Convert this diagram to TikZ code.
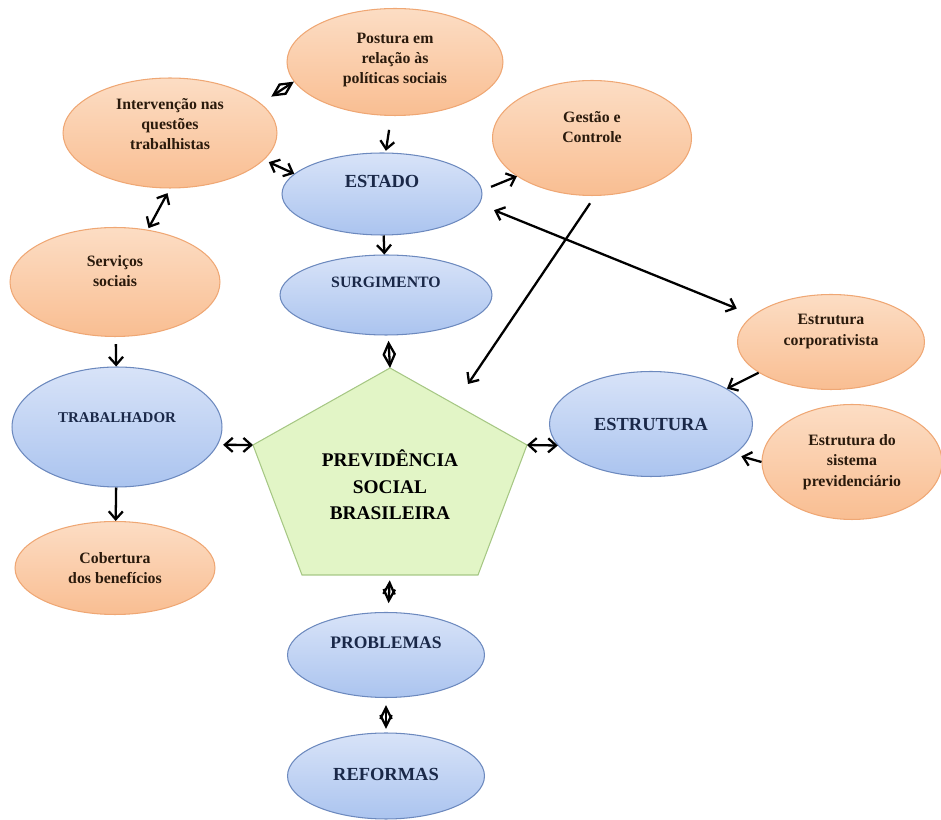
\documentclass[tikz,border=0pt]{standalone}
\usepackage{fontspec}
\setmainfont{Liberation Serif}
\usetikzlibrary{arrows.meta,shapes.geometric}

\definecolor{orgtop}{HTML}{FCDDC4}
\definecolor{orgbot}{HTML}{F9BE92}
\definecolor{orgline}{HTML}{EFA774}
\definecolor{orgtext}{HTML}{2A1A0C}
\definecolor{blutop}{HTML}{D8E3F8}
\definecolor{blubot}{HTML}{ABC4EF}
\definecolor{bluline}{HTML}{6C89BE}
\definecolor{blutext}{HTML}{1A2848}
\definecolor{pentfill}{HTML}{E2F5C6}
\definecolor{pentline}{HTML}{A6C784}

\begin{document}
\begin{tikzpicture}[x=0.02cm,y=-0.02cm,
    obox/.style={ellipse,draw=orgline,line width=0.6pt,top color=orgtop,bottom color=orgbot,inner sep=0pt},
    bbox/.style={ellipse,draw=bluline,line width=0.6pt,top color=blutop,bottom color=blubot,inner sep=0pt},
    otxt/.style={align=center,text=orgtext,font=\fontsize{9}{11.5}\selectfont\bfseries},
    btxt/.style={align=center,text=blutext,font=\fontsize{10.5}{12}\selectfont\bfseries},
    arr/.style={-{Straight Barb[length=4.5pt,width=8pt]},line width=1.3pt},
    dbl/.style={{Straight Barb[length=4.5pt,width=8pt]}-{Straight Barb[length=4.5pt,width=8pt]},line width=1.3pt},
    dia/.style={{Straight Barb[length=6.5pt,width=6.5pt]}-{Straight Barb[length=6.5pt,width=6.5pt]},line width=1.3pt}]
  \useasboundingbox (0,0) rectangle (941,820);

  % orange bubbles
  \node[obox,minimum width=4.32cm,minimum height=2.14cm,
    label={[otxt,yshift=1pt]center:{Postura em\\relação às\\políticas sociais}}] (postura) at (395,62) {};
  \node[obox,minimum width=4.28cm,minimum height=2.2cm,
    label={[otxt,yshift=5pt]center:{Intervenção nas\\questões\\trabalhistas}}] (interv) at (170,133) {};
  \node[obox,minimum width=3.98cm,minimum height=2.3cm,
    label={[otxt,yshift=6pt]center:{Gestão e\\Controle}}] (gestao) at (592,138) {};
  \node[obox,minimum width=4.2cm,minimum height=2.18cm,
    label={[otxt,yshift=6pt]center:{Serviços\\sociais}}] (servicos) at (115,282) {};
  \node[obox,minimum width=3.74cm,minimum height=1.9cm,
    label={[otxt,yshift=6pt]center:{Estrutura\\corporativista}}] (corp) at (831,342) {};
  \node[obox,minimum width=3.6cm,minimum height=2.3cm,
    label={[otxt]center:{Estrutura do\\sistema\\previdenciário}}] (sist) at (852,462) {};
  \node[obox,minimum width=4.0cm,minimum height=1.86cm,
    label={[otxt]center:{Cobertura\\dos benefícios}}] (cobert) at (115,568) {};

  % blue bubbles
  \node[bbox,minimum width=4.0cm,minimum height=1.64cm,
    label={[btxt,yshift=7pt]center:ESTADO}] (estado) at (382,194) {};
  \node[bbox,minimum width=4.24cm,minimum height=1.6cm,
    label={[btxt,font=\fontsize{9}{11}\selectfont\bfseries,yshift=7pt]center:SURGIMENTO}] (surg) at (386,295) {};
  \node[bbox,minimum width=4.2cm,minimum height=2.4cm,
    label={[btxt,font=\fontsize{8.5}{10}\selectfont\bfseries,yshift=5.5pt]center:TRABALHADOR}] (trab) at (117,427) {};
  \node[bbox,minimum width=4.06cm,minimum height=2.1cm,
    label={[btxt]center:ESTRUTURA}] (estrutura) at (651,424) {};
  \node[bbox,minimum width=3.94cm,minimum height=1.7cm,
    label={[btxt,font=\fontsize{10}{12}\selectfont\bfseries,yshift=7pt]center:PROBLEMAS}] (problemas) at (386,655) {};
  \node[bbox,minimum width=3.94cm,minimum height=1.72cm,
    label={[btxt,yshift=1pt]center:REFORMAS}] (reformas) at (386,776) {};

  % pentagon
  \coordinate (pT) at (390,368);
  \coordinate (pR) at (527,445);
  \coordinate (pBR) at (478,575);
  \coordinate (pBL) at (302,575);
  \coordinate (pL) at (253,445);
  \coordinate (pB) at (390,575);
  \filldraw[fill=pentfill,draw=pentline,line width=0.6pt] (pT) -- (pR) -- (pBR) -- (pBL) -- (pL) -- cycle;
  \node[btxt,text=black,font=\fontsize{11}{15}\selectfont\bfseries] (prev) at (390,485) {PREVIDÊNCIA\\SOCIAL\\BRASILEIRA};

  \coordinate (gcEnd) at (468,384);

  % connectors
  \draw[arr,shorten <=8pt,shorten >=1pt] (postura.-94) -- (estado.85);
  \draw[dia,shorten <=7pt] (interv.18) -- (postura.191);
  \draw[dbl,shorten <=3pt] (interv.-16) -- (estado.167);
  \draw[dbl,shorten <=3pt,shorten >=1pt] (interv.south) -- (servicos.58);
  \draw[arr,shorten <=5.5pt] (estado.2) -- (gestao.207);
  \draw[dbl,shorten <=9pt,shorten >=10pt] (estado.-6) -- (corp.161);
  \draw[arr,shorten <=5pt] (gestao.-87) -- (gcEnd);
  \draw[arr] (estado) -- (surg);
  \draw[dia,shorten <=3pt] (surg) -- (pT);
  \draw[arr,shorten <=4pt] (servicos) -- (trab);
  \draw[arr] (trab) -- (cobert);
  \draw[dbl,shorten <=3pt] (trab.-10) -- (pL);
  \draw[dbl] (pR) -- (estrutura.193);
  \draw[arr] (corp.203) -- (estrutura.25);
  \draw[arr,shorten >=4pt] (sist.west) -- (estrutura.-20);
  \draw[dia,shorten <=3pt,shorten >=5pt] (pB) -- (problemas);
  \draw[dia,shorten <=4pt,shorten >=2pt] (problemas) -- (reformas);
\end{tikzpicture}
\end{document}
